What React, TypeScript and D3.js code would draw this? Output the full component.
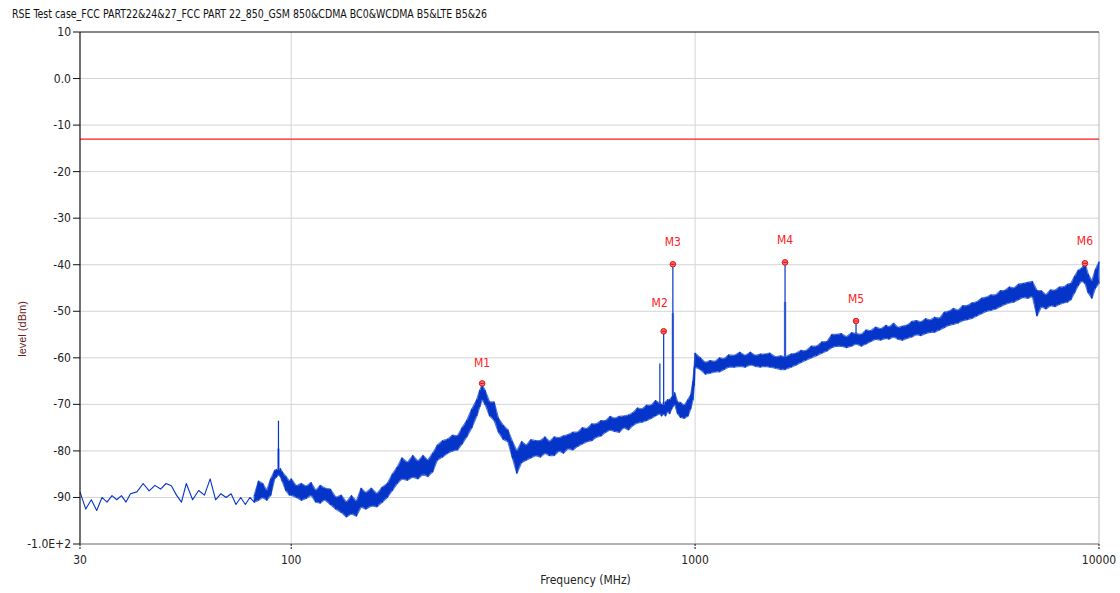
import React from "react";
import * as d3 from "d3";

// ---- data ----
const titleText =
  "RSE Test case_FCC PART22&24&27_FCC PART 22_850_GSM 850&CDMA BC0&WCDMA B5&LTE B5&26";

const freqMHz = [
  30, 31, 32, 33, 34, 35, 36, 37, 38, 39, 40, 41.5, 43, 44.5, 46, 47.5, 49, 50.5, 52, 53.5, 55, 57, 59, 61, 63, 65, 67, 69, 71, 73, 75, 77, 79, 81, 83, 85, 87, 89, 91, 92, 93, 94, 95, 97, 99,
  100, 103, 106, 109, 112, 115, 118, 121, 125, 129, 133, 137, 141, 145, 149, 153, 158, 163, 168, 173, 178, 183, 188, 194, 200, 206, 212, 218, 224, 230, 237, 244, 251, 258, 265, 272, 280, 288, 293, 297, 302, 310, 318, 326, 335, 344, 353, 362, 372, 382, 392, 403, 414, 425, 436, 448, 460, 472, 485, 498, 512, 526, 540, 555, 570, 585, 600, 616, 632, 649, 666, 684, 702, 720, 739, 758, 778, 798, 818, 826, 836, 845, 855, 865, 875, 881, 890, 905, 920, 940, 960, 975, 988, 995,
  1000, 1030, 1060, 1090, 1120, 1150, 1180, 1210, 1250, 1290, 1330, 1370, 1410, 1450, 1490, 1530, 1580, 1630, 1670, 1730, 1780, 1830, 1880, 1940, 2000, 2060, 2120, 2180, 2240, 2300, 2370, 2440, 2503, 2580, 2650, 2720, 2800, 2880, 2970, 3020, 3100, 3180, 3260, 3350, 3440, 3530, 3620, 3720, 3820, 3920, 4030, 4140, 4250, 4360, 4480, 4600, 4720, 4850, 4980, 5120, 5260, 5400, 5550, 5700, 5850, 6000, 6160, 6320, 6490, 6660, 6840, 7020, 7200, 7390, 7580, 7780, 7980, 8180, 8360, 8520, 8700, 8880, 9050, 9230, 9400, 9600, 9800, 10000,
];

const levelHi = [
  -88.8, -90.8, -90.5, -91.0, -90.0, -89.8, -89.6, -89.3, -89.6, -89.8, -89.2, -86.8, -87.0, -87.6, -87.4, -87.2, -87.0, -85.6, -89.5, -88.5, -87.0, -88.0, -88.5, -86.5, -86.0, -89.0, -89.2, -88.8, -89.2, -89.8, -90.0, -89.8, -90.0, -89.5, -86.5, -87.0, -88.5, -86.0, -84.2, -84.0, -84.0, -83.8, -84.5, -85.5, -86.5,
  -86.0, -87.5, -87.0, -87.6, -86.8, -88.5, -87.4, -88.0, -88.2, -90.0, -89.5, -91.0, -89.6, -90.8, -88.0, -89.0, -88.0, -89.2, -87.8, -87.0, -85.0, -83.5, -81.5, -82.5, -81.0, -82.2, -81.0, -82.0, -80.5, -78.8, -77.8, -77.5, -76.6, -76.8, -75.0, -73.5, -71.0, -69.0, -67.0, -65.8, -67.0, -69.5, -69.5, -73.0, -74.5, -75.5, -78.0, -80.0, -78.0, -78.8, -77.6, -77.8, -77.8, -77.0, -78.0, -77.0, -77.2, -76.8, -76.5, -76.0, -76.0, -75.0, -75.2, -74.2, -74.2, -73.5, -73.5, -72.6, -73.0, -72.6, -72.5, -72.3, -71.8, -70.8, -71.0, -70.2, -70.2, -69.2, -69.8, -70.0, -70.0, -69.5, -69.0, -69.0, -68.5, -68.0, -67.5, -69.5, -69.6, -70.2, -69.0, -68.0, -65.0, -62.0,
  -59.0, -60.0, -61.0, -60.6, -60.8, -60.0, -60.2, -59.4, -59.5, -58.8, -59.5, -58.8, -59.5, -59.2, -59.2, -59.0, -59.8, -59.6, -59.8, -59.2, -59.0, -58.4, -58.5, -57.5, -57.5, -56.6, -56.5, -55.0, -55.0, -54.8, -55.5, -54.6, -54.8, -55.0, -54.0, -54.2, -53.4, -53.8, -53.0, -53.4, -52.6, -53.5, -53.2, -53.0, -52.2, -52.0, -52.3, -51.6, -51.9, -51.3, -51.5, -50.2, -50.0, -49.4, -49.8, -48.8, -48.8, -48.2, -48.0, -47.2, -47.0, -46.5, -46.5, -45.6, -45.5, -44.8, -45.0, -44.2, -44.0, -43.8, -43.6, -45.5, -45.6, -46.5, -45.4, -45.5, -44.8, -44.8, -44.2, -44.0, -42.5, -41.2, -40.8, -39.7, -42.0, -43.5, -41.0, -39.4,
];

const levelLo = [
  -91.5, -92.5, -92.0, -92.8, -91.5, -91.0, -91.2, -90.5, -90.8, -91.0, -90.4, -88.8, -88.5, -88.6, -88.4, -88.2, -88.0, -87.5, -91.8, -91.0, -89.0, -90.5, -91.0, -89.5, -90.5, -90.5, -90.8, -90.0, -90.6, -91.5, -91.8, -91.5, -92.0, -91.0, -90.6, -90.0, -90.6, -89.5, -86.0, -85.6, -85.0, -85.5, -86.5, -88.5, -89.5,
  -89.5, -90.0, -90.6, -90.2, -89.5, -91.0, -91.2, -90.5, -91.5, -92.5, -93.2, -94.2, -93.5, -94.0, -92.0, -92.5, -91.8, -92.0, -91.0, -90.0, -88.5, -87.0, -86.0, -86.3, -85.6, -86.0, -85.0, -85.5, -84.5, -82.0, -81.3, -80.5, -80.0, -79.8, -78.5, -77.0, -75.0, -72.5, -70.5, -69.0, -70.0, -72.5, -73.4, -76.0, -77.5, -78.0, -81.5, -84.8, -82.5, -82.0, -81.5, -81.0, -81.3, -80.5, -81.0, -81.0, -80.0, -80.5, -79.5, -79.8, -79.0, -78.5, -78.0, -77.8, -77.0, -76.8, -76.0, -75.5, -75.8, -76.0, -75.0, -75.5, -74.5, -74.0, -73.8, -73.5, -73.0, -72.5, -72.0, -72.5, -72.0, -72.5, -71.5, -72.0, -71.0, -70.5, -70.0, -72.0, -72.8, -73.0, -72.5, -71.0, -69.0, -66.0,
  -62.0, -62.5, -63.5, -63.3, -63.0, -63.0, -62.5, -62.0, -62.0, -61.8, -62.0, -61.5, -61.8, -62.0, -61.8, -62.0, -62.2, -62.5, -62.5, -62.0, -61.5, -61.0, -60.5, -60.0, -59.5, -59.0, -58.5, -57.8, -57.5, -57.5, -57.8, -57.5, -57.0, -57.5, -57.0, -56.5, -56.0, -56.2, -55.8, -56.0, -55.5, -56.0, -56.2, -55.8, -55.5, -55.0, -55.2, -54.8, -54.5, -54.5, -54.0, -53.5, -53.0, -52.8, -52.5, -52.0, -51.8, -51.5, -51.0, -50.5, -50.0, -49.8, -49.5, -49.0, -48.5, -48.2, -48.0, -47.5, -47.0, -47.2, -46.8, -51.0, -49.0, -49.5, -48.8, -49.0, -48.5, -48.2, -48.0, -47.5, -46.0, -44.5, -43.5, -44.0, -46.0, -47.2, -45.0, -44.0,
];

// narrow spikes rising out of the noise band
const spikeFreq = [93, 818, 836, 881, 1670, 2503];
const spikeTop = [-73.5, -61.2, -54.3, -39.9, -39.5, -52.1];
const spikeShoulder = [-79.5, -69.5, -69.5, -50.4, -48.0, -54.5];

const markerNames = ["M1", "M2", "M3", "M4", "M5", "M6"];
const markerFreq = [297, 836, 881, 1670, 2503, 9230];
const markerLevel = [-65.5, -54.3, -39.9, -39.5, -52.1, -39.7];
const markerLabelDx = [0, -4, 0, 0, 0, 0];
const markerLabelDy = [-16, -24, -18, -18, -18, -18];

const limitLevel = -13;
const denseFromMHz = 80;

const yTicks = [10, 0, -10, -20, -30, -40, -50, -60, -70, -80, -90, -100];
const yTickLabels = ["10", "0.0", "-10", "-20", "-30", "-40", "-50", "-60", "-70", "-80", "-90", "-1.0E+2"];
const xTicks = [30, 100, 1000, 10000];
const xTickLabels = ["30", "100", "1000", "10000"];

const W = 1120;
const H = 593;
const L = 80;
const R = 1099;
const T = 32;
const B = 544;

const FONT = "'Liberation Sans Narrow', 'DejaVu Sans Condensed', 'Liberation Sans', sans-serif";

export default function App() {
  const x = d3.scaleLog().domain([30, 10000]).range([L, R]);
  const y = d3.scaleLinear().domain([-100, 10]).range([B, T]);

  const zigPts: [number, number][] = freqMHz.map((f, i) => [
    x(f),
    y(i % 2 === 0 ? levelHi[i] : levelLo[i]),
  ]);
  const zig = d3.line()(zigPts) || "";
  const zigPts2: [number, number][] = freqMHz.map((f, i) => [
    x(f),
    y(i % 2 === 1 ? levelHi[i] : levelLo[i]),
  ]);
  const zig2 = d3.line()(zigPts2.filter((_, i) => freqMHz[i] >= denseFromMHz)) || "";

  const idx = d3.range(freqMHz.length).filter((i) => freqMHz[i] >= denseFromMHz);
  const band =
    d3
      .area<number>()
      .x((i) => x(freqMHz[i]))
      .y0((i) => y(levelLo[i]))
      .y1((i) => y(levelHi[i]))(idx) || "";

  const bandAt = (f: number) => {
    const i = freqMHz.indexOf(f);
    return i >= 0 ? levelHi[i] : -70;
  };

  const blue = "#0535c8";

  return (
    <svg width={W} height={H} style={{ position: "absolute", left: 0, top: 0, background: "#fff" }}>
      <rect x={0} y={0} width={W} height={H} fill="#fff" />
      <text x={12} y={18} fontFamily={FONT} fontSize={12} fill="#111" textLength={475} lengthAdjust="spacingAndGlyphs">
        {titleText}
      </text>

      {/* grid */}
      {yTicks.slice(1, -1).map((t) => (
        <line key={"gy" + t} x1={L} x2={R} y1={y(t)} y2={y(t)} stroke="#d4d4d4" strokeWidth={1} />
      ))}
      {xTicks.slice(1, -1).map((t) => (
        <line key={"gx" + t} x1={x(t)} x2={x(t)} y1={T} y2={B} stroke="#d4d4d4" strokeWidth={1} />
      ))}
      <line x1={R} x2={R} y1={T} y2={B} stroke="#b8b8b8" />

      {/* limit line */}
      <line x1={L} x2={R} y1={y(limitLevel)} y2={y(limitLevel)} stroke="#ff1a1a" strokeWidth={1.3} />

      {/* trace */}
      <path d={band} fill={blue} stroke="#4f74dc" strokeWidth={1.4} strokeLinejoin="round" />
      <path d={zig2} fill="none" stroke={blue} strokeWidth={1} />
      <path d={zig} fill="none" stroke={blue} strokeWidth={1.1} strokeLinejoin="round" />
      {spikeFreq.map((f, i) => (
        <g key={"sp" + i}>
          <line x1={x(f)} x2={x(f)} y1={y(bandAt(f))} y2={y(spikeShoulder[i])} stroke="#6f8ce4" strokeWidth={2.4} />
          <line x1={x(f)} x2={x(f)} y1={y(bandAt(f))} y2={y(spikeTop[i])} stroke={blue} strokeWidth={1.2} />
        </g>
      ))}

      {/* axes */}
      <line x1={L} x2={R} y1={T} y2={T} stroke="#111" strokeWidth={1.2} />
      <line x1={L} x2={L} y1={T} y2={B} stroke="#111" strokeWidth={1.2} />
      <line x1={L} x2={R} y1={B} y2={B} stroke="#666" strokeWidth={1} />
      {yTicks.map((t, i) => (
        <g key={"yt" + t}>
          <line x1={L - 7} x2={L} y1={y(t)} y2={y(t)} stroke="#111" />
          <text x={L - 9} y={y(t) + 4} textAnchor="end" fontFamily={FONT} fontSize={12} fill="#222">
            {yTickLabels[i]}
          </text>
        </g>
      ))}
      {xTicks.map((t, i) => (
        <g key={"xt" + t}>
          <line x1={x(t)} x2={x(t)} y1={B} y2={B + 6} stroke="#111" strokeDasharray="2,1" />
          <text x={x(t)} y={B + 20} textAnchor="middle" fontFamily={FONT} fontSize={12} fill="#222">
            {xTickLabels[i]}
          </text>
        </g>
      ))}
      <text x={(L + R) / 2 - 4} y={B + 40} textAnchor="middle" fontFamily={FONT} fontSize={12} fill="#222">
        Frequency (MHz)
      </text>
      <text
        transform={`translate(26, 329) rotate(-90)`}
        textAnchor="middle"
        fontFamily="'Liberation Sans', sans-serif"
        fontSize={11}
        fill="#6a1c1c"
      >
        level (dBm)
      </text>

      {/* markers */}
      {markerNames.map((m, i) => {
        const cx = x(markerFreq[i]);
        const cy = y(markerLevel[i]);
        return (
          <g key={m}>
            <circle cx={cx} cy={cy} r={2.8} fill="#ff7070" stroke="#e01010" strokeWidth={1} />
            <line x1={cx - 2} x2={cx + 2} y1={cy} y2={cy} stroke="#c00000" strokeWidth={0.8} />
            <text
              x={cx + markerLabelDx[i]}
              y={cy + markerLabelDy[i]}
              textAnchor="middle"
              fontFamily={FONT}
              fontSize={12}
              fill="#ff2020"
            >
              {m}
            </text>
          </g>
        );
      })}
    </svg>
  );
}
